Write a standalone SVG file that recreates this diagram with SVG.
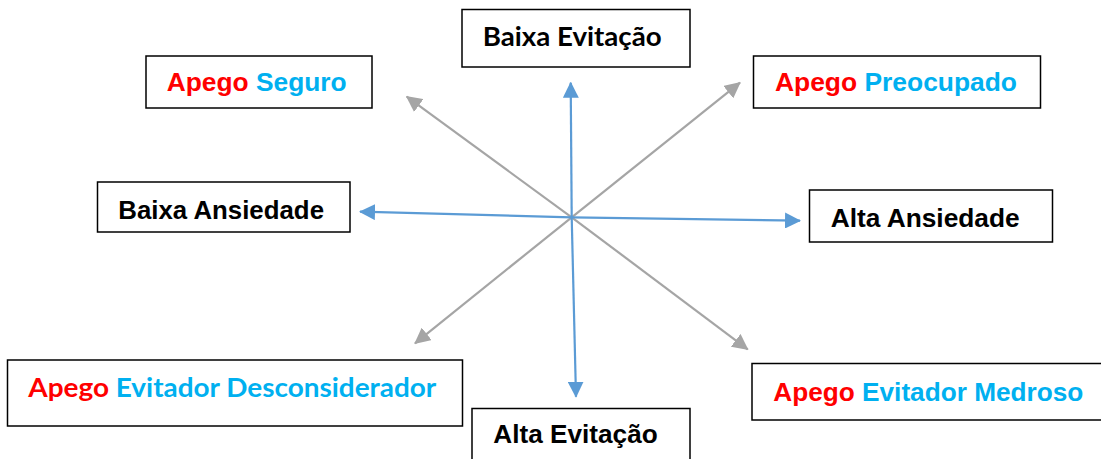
<svg xmlns="http://www.w3.org/2000/svg" width="1101" height="459" viewBox="0 0 1101 459">
<style>
.box{fill:#fff;stroke:#000;stroke-width:1.5}
.t{font-family:"Liberation Sans",Arial,sans-serif;font-weight:bold;font-size:26px;fill:#000}
.c{font-family:Lato,"Liberation Sans",sans-serif;font-weight:bold;font-size:26px;fill:#000}
.r{fill:#FF0000}
.b{fill:#00B0F0}
.blue{stroke:#5B9BD5;stroke-width:2.2;fill:none;marker-end:url(#ab)}
.gray{stroke:#A5A5A5;stroke-width:2.2;fill:none;marker-end:url(#ag)}
</style>
<defs>
<marker id="ab" markerUnits="userSpaceOnUse" markerWidth="16" markerHeight="16" refX="15" refY="8" orient="auto"><path d="M0,0 L16,8 L0,16 z" fill="#5B9BD5"/></marker>
<marker id="ag" markerUnits="userSpaceOnUse" markerWidth="16" markerHeight="16" refX="15" refY="8" orient="auto"><path d="M0,0 L16,8 L0,16 z" fill="#A5A5A5"/></marker>
</defs>
<rect width="1101" height="459" fill="#fff"/>
<g id="connectors">
<line class="gray" x1="571.7" y1="217.3" x2="406.7" y2="96.7"/>
<line class="gray" x1="571.7" y1="217.3" x2="740" y2="82.7"/>
<line class="gray" x1="571.7" y1="217.3" x2="415" y2="343.3"/>
<line class="gray" x1="571.7" y1="217.3" x2="747.7" y2="349.3"/>
<line class="blue" x1="571.7" y1="217.3" x2="570.7" y2="82.7"/>
<line class="blue" x1="571.7" y1="217.3" x2="576" y2="396.7"/>
<line class="blue" x1="571.7" y1="217.3" x2="360" y2="211.7"/>
<line class="blue" x1="571.7" y1="217.3" x2="800" y2="220.7"/>
</g>
<g id="baixa-evitacao">
<rect class="box" x="462" y="9.5" width="228" height="57.5"/>
<text class="c" x="482.7" y="46" textLength="179" lengthAdjust="spacingAndGlyphs">Baixa Evitação</text>
</g>
<g id="apego-seguro">
<rect class="box" x="146" y="56" width="226" height="52"/>
<text class="t" x="166.7" y="91" textLength="180" lengthAdjust="spacingAndGlyphs"><tspan class="r">Apego</tspan> <tspan class="b">Seguro</tspan></text>
</g>
<g id="apego-preocupado">
<rect class="box" x="753.5" y="56" width="287" height="52"/>
<text class="t" x="775" y="91" textLength="242" lengthAdjust="spacingAndGlyphs"><tspan class="r">Apego</tspan> <tspan class="b">Preocupado</tspan></text>
</g>
<g id="baixa-ansiedade">
<rect class="box" x="97.5" y="182" width="252.5" height="50"/>
<text class="t" x="118.3" y="219" textLength="205.7" lengthAdjust="spacingAndGlyphs">Baixa Ansiedade</text>
</g>
<g id="alta-ansiedade">
<rect class="box" x="809.5" y="190" width="243" height="52"/>
<text class="t" x="830.7" y="226.7" textLength="189" lengthAdjust="spacingAndGlyphs">Alta Ansiedade</text>
</g>
<g id="apego-evitador-desconsiderador">
<rect class="box" x="7.5" y="360" width="455" height="66"/>
<text class="c" x="28.3" y="396.7" textLength="408" lengthAdjust="spacingAndGlyphs"><tspan class="r">Apego</tspan> <tspan class="b">Evitador Desconsiderador</tspan></text>
</g>
<g id="alta-evitacao">
<rect class="box" x="472" y="408.5" width="218" height="60"/>
<text class="t" x="493.3" y="442.7" textLength="164.4" lengthAdjust="spacingAndGlyphs">Alta Evitação</text>
</g>
<g id="apego-evitador-medroso">
<rect class="box" x="752" y="363.5" width="360" height="56.5"/>
<text class="t" x="773.3" y="401" textLength="310" lengthAdjust="spacingAndGlyphs"><tspan class="r">Apego</tspan> <tspan class="b">Evitador Medroso</tspan></text>
</g>
</svg>
